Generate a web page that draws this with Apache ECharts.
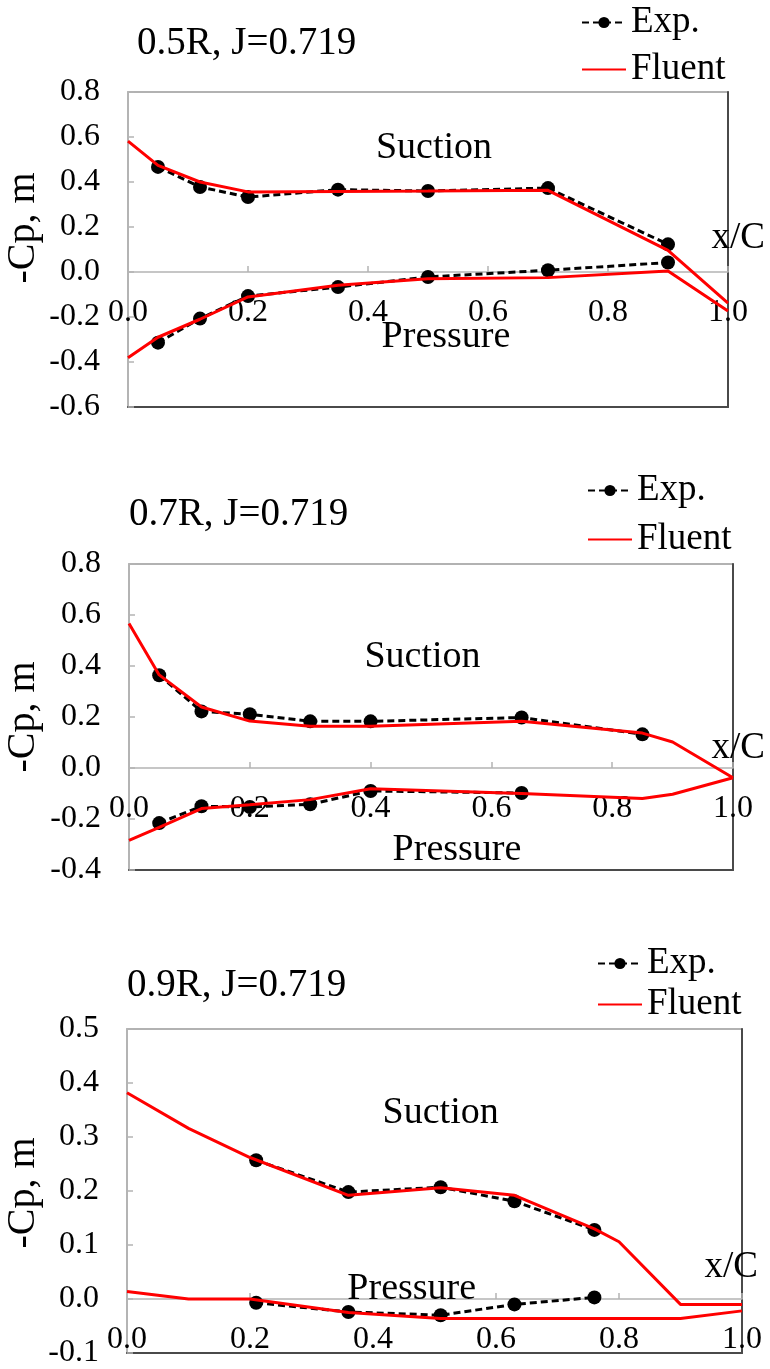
<!DOCTYPE html>
<html>
<head>
<meta charset="utf-8">
<title>-Cp distributions at 0.5R, 0.7R, 0.9R</title>
<script src="https://cdn.jsdelivr.net/npm/echarts@6/dist/echarts.min.js"></script>
<style>
  html, body { margin: 0; padding: 0; background: #fff; }
  #chart { width: 770px; height: 1369px; }
</style>
</head>
<body>
<div id="chart"></div>
<script>
// ---- Data: pressure coefficient on suction and pressure sides ----
// r/R = 0.5
const expX_05 = [0.05, 0.12, 0.2, 0.35, 0.5, 0.7, 0.9];
const expSuction_05 = [0.467, 0.378, 0.333, 0.366, 0.36, 0.373, 0.123];
const expPressure_05 = [-0.314, -0.207, -0.107, -0.067, -0.022, 0.008, 0.042];
const cfdX_05 = [0, 0.05, 0.12, 0.2, 0.35, 0.5, 0.7, 0.9, 1.0];
const cfdSuction_05 = [0.582, 0.474, 0.40, 0.356, 0.358, 0.36, 0.363, 0.096, -0.138];
const cfdPressure_05 = [-0.381, -0.29, -0.21, -0.111, -0.059, -0.03, -0.025, 0.004, -0.173];

// r/R = 0.7
const expSuctionX_07 = [0.05, 0.12, 0.2, 0.3, 0.4, 0.65, 0.85];
const expSuction_07 = [0.364, 0.222, 0.211, 0.183, 0.183, 0.198, 0.132];
const expPressureX_07 = [0.05, 0.12, 0.2, 0.3, 0.4, 0.65];
const expPressure_07 = [-0.216, -0.150, -0.153, -0.142, -0.090, -0.098];
const cfdX_07 = [0, 0.05, 0.12, 0.2, 0.3, 0.4, 0.65, 0.85, 0.9, 1.0];
const cfdSuction_07 = [0.567, 0.365, 0.239, 0.184, 0.164, 0.164, 0.183, 0.137, 0.102, -0.038];
const cfdPressure_07 = [-0.284, -0.233, -0.159, -0.144, -0.124, -0.081, -0.1, -0.12, -0.103, -0.038];

// r/R = 0.9
const expX_09 = [0.21, 0.36, 0.51, 0.63, 0.76];
const expSuction_09 = [0.257, 0.198, 0.207, 0.181, 0.128];
const expPressure_09 = [-0.007, -0.024, -0.030, -0.010, 0.003];
const cfdX_09 = [0, 0.1, 0.2, 0.36, 0.51, 0.63, 0.76, 0.8, 0.9, 1.0];
const cfdSuction_09 = [0.382, 0.316, 0.262, 0.192, 0.206, 0.192, 0.130, 0.106, -0.01, -0.01];
const cfdPressure_09 = [0.014, 0.0, 0.0, -0.025, -0.036, -0.036, -0.036, -0.036, -0.036, -0.022];

// Panel titles, axis ranges and side annotations
const panelTitles = ['0.5R, J=0.719', '0.7R, J=0.719', '0.9R, J=0.719'];
const yAxisTitle = '-Cp, m';
const yMin = [-0.6, -0.4, -0.1];
const yMax = [0.8, 0.8, 0.5];
const yStep = [0.2, 0.2, 0.1];
const sideNames = ['Suction', 'Pressure'];
const sideLabelX = [[0.51, 0.53], [0.486, 0.543], [0.51, 0.463]];
const sideLabelY = [[0.55, -0.29], [0.434, -0.323], [0.344, 0.018]];

// ---- Layout / style ----
const FONT = 'Liberation Serif, Times New Roman, serif';
const LIGHT = '#b4b4b4';
const DARK = '#4a4a4a';
const grids = [
  { left: 128, top: 92, width: 600, height: 315 },
  { left: 129, top: 564, width: 604, height: 306 },
  { left: 127, top: 1029, width: 615, height: 324 }
];
const titlePos = [{ left: 137, top: 24 }, { left: 129, top: 495 }, { left: 127, top: 966 }];
const legendPos = [{ left: 581, top: 4, gap: 10 }, { left: 587, top: 472, gap: 12 }, { left: 597, top: 945, gap: 4 }];
const yTitleCenter = [[23, 228], [23, 717], [23, 1193]];
const xNameGap = [37, 32, 16];
const xNamePad = [16, 2, 14];

function zip(xs, ys) { return xs.map((x, i) => [x, ys[i]]); }

const panels = [
  { expS: zip(expX_05, expSuction_05), expP: zip(expX_05, expPressure_05),
    cfdS: zip(cfdX_05, cfdSuction_05), cfdP: zip(cfdX_05, cfdPressure_05) },
  { expS: zip(expSuctionX_07, expSuction_07), expP: zip(expPressureX_07, expPressure_07),
    cfdS: zip(cfdX_07, cfdSuction_07), cfdP: zip(cfdX_07, cfdPressure_07) },
  { expS: zip(expX_09, expSuction_09), expP: zip(expX_09, expPressure_09),
    cfdS: zip(cfdX_09, cfdSuction_09), cfdP: zip(cfdX_09, cfdPressure_09) }
];

const fmt1 = v => Number(v).toFixed(1);
// The x/C axis (with its labels) runs along -Cp = 0 inside each plot.
const zeroOffset = grids.map((g, i) => -g.height * (0 - yMin[i]) / (yMax[i] - yMin[i]));

const option = {
  backgroundColor: '#fff',
  animation: false,
  textStyle: { fontFamily: FONT, color: '#000' },
  title: panelTitles.map((t, i) => ({
    text: t, left: titlePos[i].left, top: titlePos[i].top, padding: 0,
    textStyle: { fontFamily: FONT, fontSize: 39, lineHeight: 40, fontWeight: 'normal', color: '#000' }
  })),
  legend: legendPos.map(p => ({
    orient: 'vertical', left: p.left, top: p.top, itemGap: p.gap, padding: 0,
    itemWidth: 44, itemHeight: 14, selectedMode: false,
    data: [
      { name: 'Exp.' },
      { name: 'Fluent', itemStyle: { color: 'rgba(0,0,0,0)', borderWidth: 0 } }
    ],
    textStyle: { fontFamily: FONT, fontSize: 37, lineHeight: 36, color: '#000' }
  })),
  graphic: yTitleCenter.map(c => ({
    type: 'text', x: c[0], y: c[1], rotation: Math.PI / 2, silent: true,
    style: { text: yAxisTitle, font: 'normal 40px ' + FONT, fill: '#000',
      align: 'center', verticalAlign: 'middle' }
  })),
  grid: grids.map(g => Object.assign({ show: true, borderColor: '#999', borderWidth: 1.5, backgroundColor: '#fff' }, g)),
  xAxis: [
    ...grids.map((g, i) => ({
      gridIndex: i, type: 'value', min: 0, max: 1, interval: 0.2,
      position: 'bottom', offset: zeroOffset[i],
      name: 'x/C', nameLocation: 'end', nameGap: xNameGap[i],
      nameTextStyle: { fontFamily: FONT, fontSize: 37, lineHeight: 36, color: '#000',
        align: 'right', verticalAlign: 'bottom', padding: [0, 0, xNamePad[i], 0] },
      axisLine: { show: true, onZero: false, lineStyle: { color: LIGHT, width: 1.5 } },
      axisTick: { show: true, inside: true, length: 6, lineStyle: { color: LIGHT, width: 1.5 } },
      axisLabel: { margin: 25, fontFamily: FONT, fontSize: 32, color: '#000', formatter: fmt1 },
      splitLine: { show: false }
    })),
    ...grids.map((g, i) => ({
      gridIndex: i, type: 'value', min: 0, max: 1, position: 'bottom',
      axisLine: { show: true, onZero: false, lineStyle: { color: DARK, width: 2 } },
      axisTick: { show: false }, axisLabel: { show: false }, splitLine: { show: false }
    }))
  ],
  yAxis: [
    ...grids.map((g, i) => ({
      gridIndex: i, type: 'value', min: yMin[i], max: yMax[i], interval: yStep[i],
      position: 'left',
      axisLine: { show: true, onZero: false, lineStyle: { color: LIGHT, width: 2 } },
      axisTick: { show: true, inside: true, length: 6, lineStyle: { color: LIGHT, width: 1.5 } },
      axisLabel: { margin: 28, fontFamily: FONT, fontSize: 32, color: '#000', formatter: fmt1 },
      splitLine: { show: false }
    })),
    ...grids.map((g, i) => ({
      gridIndex: i, type: 'value', min: yMin[i], max: yMax[i], position: 'right',
      axisLine: { show: true, onZero: false, lineStyle: { color: DARK, width: 2 } },
      axisTick: { show: false }, axisLabel: { show: false }, splitLine: { show: false }
    }))
  ],
  series: []
};

panels.forEach((p, i) => {
  const expStyle = {
    type: 'line', xAxisIndex: i, yAxisIndex: i, name: 'Exp.',
    symbol: 'circle', symbolSize: 14, z: 3,
    lineStyle: { color: '#000', width: 3, type: [7, 4] },
    itemStyle: { color: '#000' }
  };
  const cfdStyle = {
    type: 'line', xAxisIndex: i, yAxisIndex: i, name: 'Fluent',
    symbol: 'none', z: 4,
    lineStyle: { color: '#ff0000', width: 3 },
    itemStyle: { color: '#ff0000' }
  };
  option.series.push(
    Object.assign({ data: p.expS }, expStyle),
    Object.assign({ data: p.expP }, expStyle),
    Object.assign({ data: p.cfdS }, cfdStyle),
    Object.assign({ data: p.cfdP }, cfdStyle),
    {
      type: 'scatter', xAxisIndex: i, yAxisIndex: i, name: 'side', silent: true, z: 5,
      symbolSize: 1, itemStyle: { color: 'rgba(0,0,0,0)', opacity: 1 },
      data: sideNames.map((s, k) => [sideLabelX[i][k], sideLabelY[i][k], s]),
      label: { show: true, position: 'inside', formatter: d => d.value[2],
        fontFamily: FONT, fontSize: 38, color: '#000', opacity: 1,
        textBorderWidth: 0 }
    }
  );
});

const chart = echarts.init(document.getElementById('chart'), null, { renderer: 'canvas' });
chart.setOption(option);
</script>
</body>
</html>
